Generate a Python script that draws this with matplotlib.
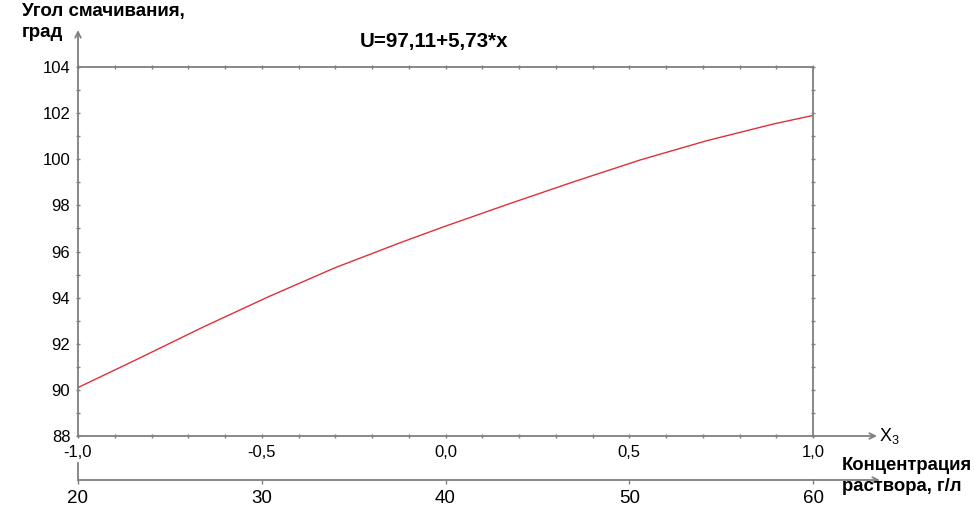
import numpy as np
import matplotlib
matplotlib.use('Agg')
import matplotlib.pyplot as plt
from matplotlib.ticker import MultipleLocator, FuncFormatter

plt.rcParams['font.family'] = ['Liberation Sans', 'DejaVu Sans']
plt.rcParams['mathtext.fontset'] = 'custom'
plt.rcParams['mathtext.rm'] = 'Liberation Sans'

# values
x_coded = [-1.0, -0.84, -0.66, -0.48, -0.30, -0.12, 0.0, 0.17, 0.35, 0.53, 0.71, 0.89, 1.0]
angle = [90.1, 91.32, 92.72, 94.05, 95.3, 96.4, 97.1, 98.05, 99.03, 99.97, 100.8, 101.52, 101.9]
conc_ticks = [20, 30, 40, 50, 60]
title = 'U=97,11+5,73*x'
ylabel = 'Угол смачивания,\nград'
xlabel2 = 'Концентрация\nраствора, г/л'

gray = '#7f7f7f'
W, H = 974, 508

fig = plt.figure(figsize=(9.74, 5.08), dpi=100)
ax = fig.add_axes([78 / W, 1 - 436 / H, 735 / W, 369 / H])

ax.plot(x_coded, angle, color='#e0303a', lw=1.0)
ax.set_xlim(-1, 1)
ax.set_ylim(88, 104)

for s in ax.spines.values():
    s.set_color(gray)
    s.set_linewidth(1.3)

comma = FuncFormatter(lambda v, p: f'{v:.1f}'.replace('.', ','))
ax.xaxis.set_major_locator(MultipleLocator(0.5))
ax.xaxis.set_minor_locator(MultipleLocator(0.1))
ax.xaxis.set_major_formatter(comma)
ax.yaxis.set_major_locator(MultipleLocator(2))
ax.yaxis.set_minor_locator(MultipleLocator(1))
ax.tick_params(which='both', direction='inout', length=3, width=1, color=gray,
               top=True, right=True, labelsize=12)
ax.tick_params(axis='x', which='major', pad=5)
ax.tick_params(axis='y', which='major', pad=4)

# arrows continuing the axes
arr = dict(arrowstyle='->', color=gray, lw=1.3, shrinkA=0, shrinkB=0)
ax.annotate('', xy=(0, 1.10), xytext=(0, 1.0), xycoords='axes fraction',
            arrowprops=arr, annotation_clip=False)
ax.annotate('', xy=(1.087, 0), xytext=(1.0, 0), xycoords='axes fraction',
            arrowprops=arr, annotation_clip=False)
ax.text(1.09, 0.0, r'$\mathregular{X_3}$', transform=ax.transAxes,
        ha='left', va='center', fontsize=13)

# second scale: concentration
ax2 = fig.add_axes([78 / W, 1 - 480 / H, 735 / W, 0.001])
ax2.set_xlim(conc_ticks[0], conc_ticks[-1])
ax2.set_xticks(conc_ticks)
ax2.set_yticks([])
for k in ['top', 'left', 'right']:
    ax2.spines[k].set_visible(False)
ax2.spines['bottom'].set_color(gray)
ax2.spines['bottom'].set_linewidth(1.3)
ax2.patch.set_visible(False)
ax2.tick_params(axis='x', direction='out', length=3, width=1, color=gray,
                labelsize=13.5, pad=4)
ax2.annotate('', xy=(1.091, 0), xytext=(1.0, 0), xycoords='axes fraction',
             arrowprops=arr, annotation_clip=False)
ax2.plot([0, 0], [0, 17 / 0.001 / H], color=gray, lw=1.3,
         transform=ax2.transAxes, clip_on=False)

fig.text(434 / W, 1 - 42 / H, title, ha='center', va='center',
         fontsize=14.8, fontweight='bold')
fig.text(22 / W, 1 - 3 / H, ylabel, ha='left', va='top',
         fontsize=13.5, fontweight='bold', linespacing=1.3)
fig.text(842 / W, 1 - 457 / H, xlabel2, ha='left', va='top',
         fontsize=13.3, fontweight='bold', linespacing=1.3)

fig.savefig('out.png', dpi=100)
